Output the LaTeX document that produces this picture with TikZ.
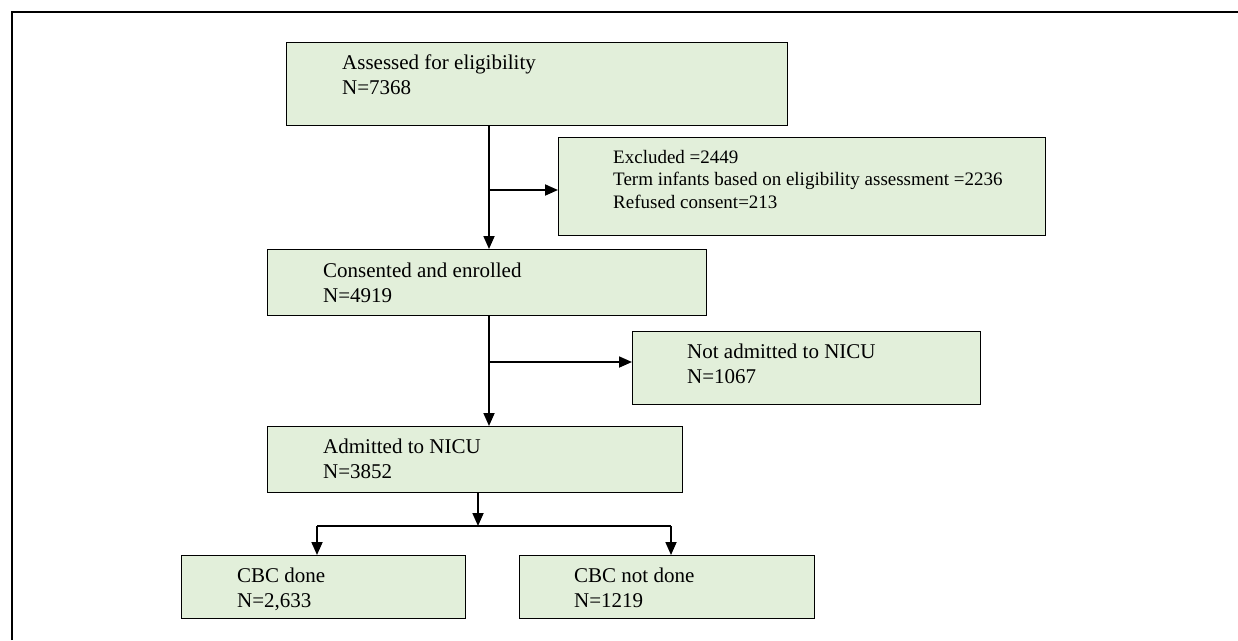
\documentclass[tikz,border=0pt]{standalone}
\usepackage{fontspec}
\setmainfont{Liberation Serif}
\usetikzlibrary{arrows.meta, positioning}
\definecolor{boxgreen}{RGB}{226,239,218}

\begin{document}
\begin{tikzpicture}[x=1pt, y=-1pt, >={Triangle[length=13pt,width=11pt]}]
 \tikzstyle{block} = [draw, fill=boxgreen, line width=1.3pt, anchor=north west, inner sep=0pt]
 \tikzstyle{blocktext} = [anchor=base west, align=left, inner sep=0pt, font=\fontsize{21}{24.5}\selectfont]
 \tikzstyle{smalltext} = [blocktext, font=\fontsize{19}{22.3}\selectfont]
 \tikzstyle{link} = [->, line width=1.8pt]

 \useasboundingbox (0,0) rectangle (1238,640);
 \draw[line width=1.3pt] (12,640) -- (12,12) -- (1238,12); % frame

 % boxes
 \node[block, minimum width=501pt, minimum height=83pt] (assess) at (286,42) {};
 \node[block, minimum width=487pt, minimum height=98pt] (excl) at (558,137) {};
 \node[block, minimum width=439pt, minimum height=66pt] (consent) at (267,249) {};
 \node[block, minimum width=348pt, minimum height=73pt] (notadm) at (632,331) {};
 \node[block, minimum width=415pt, minimum height=66pt] (admit) at (267,426) {};
 \node[block, minimum width=284pt, minimum height=63pt] (done) at (181,555) {};
 \node[block, minimum width=295pt, minimum height=63pt] (notdone) at (519,555) {};

 % texts (base = last line)
 \node[blocktext] (assess-t) at (342,94) {Assessed for eligibility\\N=7368};
 \node[smalltext] (excl-t) at (613,208) {Excluded =2449\\Term infants based on eligibility assessment =2236\\Refused consent=213};
 \node[blocktext] (consent-t) at (323,302) {Consented and enrolled\\N=4919};
 \node[blocktext] (notadm-t) at (687,383) {Not admitted to NICU\\N=1067};
 \node[blocktext] (admit-t) at (323,478) {Admitted to NICU\\N=3852};
 \node[blocktext] (done-t) at (237,607) {CBC done\\N=2,633};
 \node[blocktext] (notdone-t) at (574,607) {CBC not done\\N=1219};

 % connectors
 \coordinate (j1) at (489,190);
 \coordinate (j2) at (489,362);
 \coordinate (j3) at (478,526);
 \coordinate (jl) at (317,526);
 \coordinate (jr) at (671,526);

 \draw[link] (assess.south -| j1) -- (consent.north -| j1);
 \draw[link] (j1) -- (excl.west |- j1);
 \draw[link] (consent.south -| j2) -- (admit.north -| j2);
 \draw[link] (j2) -- (notadm.west |- j2);
 \draw[link] (admit.south -| j3) -- (j3);
 \draw[line width=1.8pt] (jl) -- (jr);
 \draw[link] (jl) -- (done.north -| jl);
 \draw[link] (jr) -- (notdone.north -| jr);
\end{tikzpicture}
\end{document}
